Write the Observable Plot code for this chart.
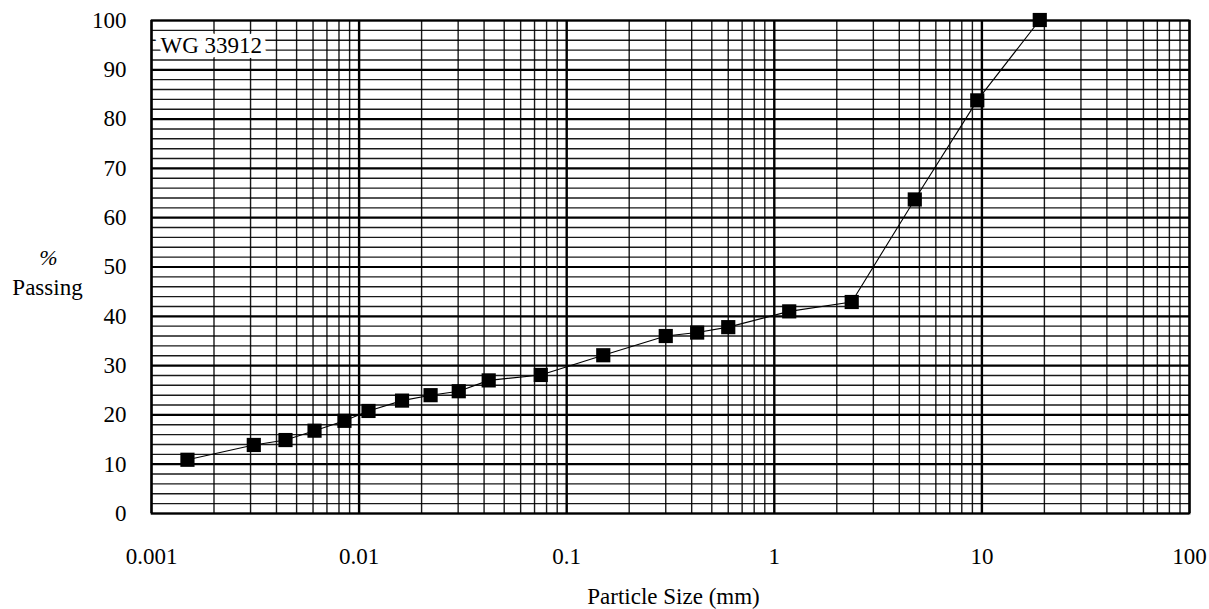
<!DOCTYPE html>
<html>
<head>
<meta charset="utf-8">
<script src="https://cdn.jsdelivr.net/npm/d3@7"></script>
<script src="https://cdn.jsdelivr.net/npm/@observablehq/plot@0.6"></script>
<style>
  html, body { margin: 0; padding: 0; background: white; }
</style>
</head>
<body>
<div id="chart"></div>
<script>
// Particle size (mm) and % passing for sample WG 33912
const sizes   = [0.00149, 0.00311, 0.00442, 0.0061, 0.0085, 0.0111, 0.0161, 0.0221, 0.0302, 0.0421, 0.075, 0.15, 0.3, 0.425, 0.6, 1.18, 2.36, 4.75, 9.5, 19];
const passing = [10.9, 13.9, 14.9, 16.8, 18.8, 20.8, 22.9, 24.0, 24.8, 27.0, 28.1, 32.1, 36.0, 36.7, 37.8, 41.0, 42.9, 63.7, 83.8, 100.1];

const xTicks = [0.001, 0.01, 0.1, 1, 10, 100];
const xTickLabels = ["0.001", "0.01", "0.1", "1", "10", "100"];
const yTicks = [0, 10, 20, 30, 40, 50, 60, 70, 80, 90, 100];
const sampleLabel = "WG 33912";
const xLabel = "Particle Size (mm)";
const yLabelTop = "%";
const yLabelBottom = "Passing";

const data = sizes.map((s, i) => ({size: s, pass: passing[i]}));

// log grid: 1..9 in each decade
const xMinor = [];
for (let d = 0; d < 5; d++) for (let k = 2; k <= 9; k++) xMinor.push(k * xTicks[d]);
const yMinor = d3.range(0, 101, 2).filter(v => v % 10 !== 0);

const chart = Plot.plot({
  width: 1209,
  height: 609,
  marginLeft: 151,
  marginRight: 20,
  marginTop: 20,
  marginBottom: 96,
  style: {fontFamily: "'Liberation Serif', 'Times New Roman', serif", fontSize: "23px", background: "white", color: "black"},
  x: {type: "log", domain: [0.001, 100]},
  y: {domain: [0, 100]},
  marks: [
    Plot.ruleY(yMinor, {stroke: "black", strokeWidth: 1.4, strokeOpacity: 0.9}),
    Plot.ruleY(yTicks, {stroke: "black", strokeWidth: 2.2}),
    Plot.ruleX(xMinor, {stroke: "black", strokeWidth: 1.4, strokeOpacity: 0.9}),
    Plot.ruleX(xTicks, {stroke: "black", strokeWidth: 2.4}),
    Plot.frame({stroke: "black", strokeWidth: 1.8}),
    Plot.axisX({ticks: xTicks, tickFormat: d => xTickLabels[xTicks.indexOf(d)], tickSize: 0, tickPadding: 34, label: null, fontSize: 23}),
    Plot.axisY({ticks: yTicks, tickSize: 0, tickPadding: 25, label: null, fontSize: 23}),
    Plot.text([sampleLabel], {frameAnchor: "top-left", dx: 9, dy: 16, textAnchor: "start", fill: "black", stroke: "white", strokeWidth: 10, fontSize: 23}),
    Plot.line(data, {x: "size", y: "pass", stroke: "black", strokeWidth: 1.1}),
    Plot.dot(data, {x: "size", y: "pass", symbol: "square", r: 8, fill: "black", stroke: "none"}),
    Plot.text([xLabel], {frameAnchor: "bottom", dx: 3, dy: 90, fill: "black", fontSize: 23}),
    Plot.text([yLabelTop], {frameAnchor: "left", textAnchor: "middle", dx: -103, dy: -9, fill: "black", fontSize: 22, fontStyle: "italic"}),
    Plot.text([yLabelBottom], {frameAnchor: "left", textAnchor: "middle", dx: -104, dy: 21, fill: "black", fontSize: 23})
  ]
});
document.getElementById("chart").appendChild(chart);
</script>
</body>
</html>
